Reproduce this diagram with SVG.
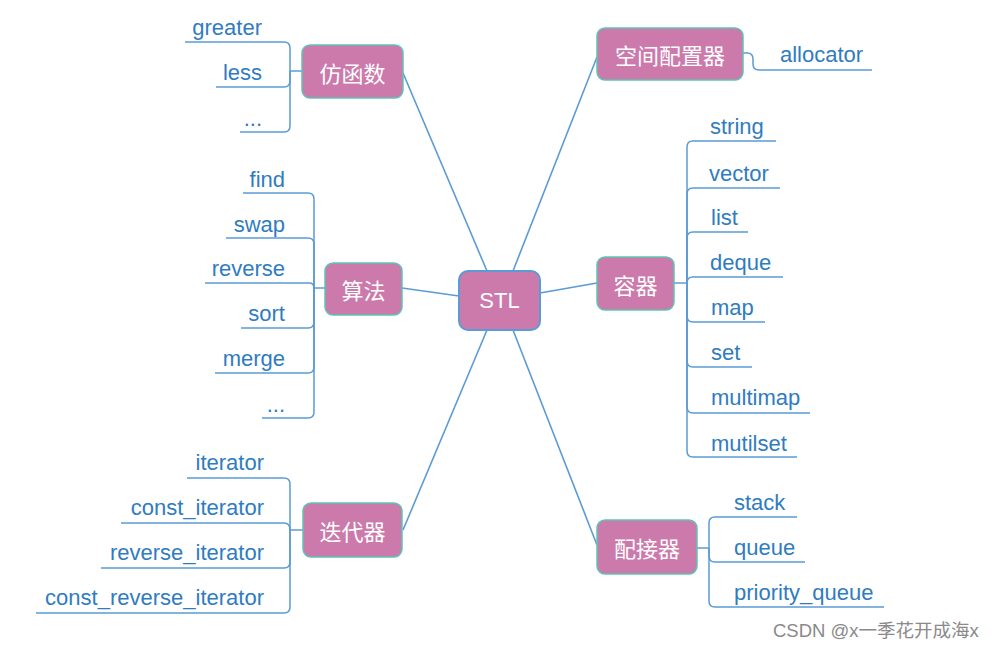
<svg xmlns="http://www.w3.org/2000/svg" width="996" height="649" viewBox="0 0 996 649">
<style>
.node{fill:#cc7aab;stroke:#5fc3b3;stroke-width:1.5}
.root{fill:#cc7aab;stroke:#5b9bd5;stroke-width:2}
.nt{font-family:"Noto Sans CJK SC","Noto Sans",sans-serif;font-size:22px;fill:#ffffff;text-anchor:middle;dominant-baseline:central}
.lt{font-family:"Liberation Sans","Noto Sans",sans-serif;font-size:22px;fill:#2f7cc0}
.le{text-anchor:end}
.ln{fill:none;stroke:#5b9bd5;stroke-width:1.5}
.mc{fill:none;stroke:#5b9bd5;stroke-width:1.6}
</style>
<rect width="996" height="649" fill="#ffffff"/>
<g id="connectors">
<path class="mc" d="M487,271 L403,73"/>
<path class="mc" d="M513,271 L597,57"/>
<path class="mc" d="M459,296 L402,288"/>
<path class="mc" d="M540,293 L597,283"/>
<path class="mc" d="M487,330 L403,530"/>
<path class="mc" d="M513,330 L597,545"/>
<path class="ln" d="M302,71 H290"/>
<path class="ln" d="M290,71 V48 Q290,42 284,42 H185"/>
<path class="ln" d="M290,71 V81 Q290,87 284,87 H216"/>
<path class="ln" d="M290,71 V126 Q290,132 284,132 H240"/>
<path class="ln" d="M325,288 H314"/>
<path class="ln" d="M314,288 V199 Q314,193 308,193 H243"/>
<path class="ln" d="M314,288 V244 Q314,238 308,238 H226"/>
<path class="ln" d="M314,288 Q314,283 309,283 H205"/>
<path class="ln" d="M314,288 V322 Q314,328 308,328 H241"/>
<path class="ln" d="M314,288 V367 Q314,373 308,373 H215"/>
<path class="ln" d="M314,288 V412 Q314,418 308,418 H262"/>
<path class="ln" d="M303,530 H290"/>
<path class="ln" d="M290,530 V484 Q290,478 284,478 H187"/>
<path class="ln" d="M290,530 Q290,523 284,523 H121"/>
<path class="ln" d="M290,530 V562 Q290,568 284,568 H101"/>
<path class="ln" d="M290,530 V607 Q290,613 284,613 H36"/>
<path class="ln" d="M743,53 H747 Q753,53 753,59 V64 Q753,70 759,70 H872"/>
<path class="ln" d="M674,283 H687"/>
<path class="ln" d="M687,283 V147 Q687,141 693,141 H776"/>
<path class="ln" d="M687,283 V194 Q687,188 693,188 H780"/>
<path class="ln" d="M687,283 V238 Q687,232 693,232 H748"/>
<path class="ln" d="M687,283 Q687,277 693,277 H783"/>
<path class="ln" d="M687,283 V316 Q687,322 693,322 H765"/>
<path class="ln" d="M687,283 V361 Q687,367 693,367 H752"/>
<path class="ln" d="M687,283 V407 Q687,413 693,413 H810"/>
<path class="ln" d="M687,283 V451 Q687,457 693,457 H797"/>
<path class="ln" d="M697,548 H709"/>
<path class="ln" d="M709,548 V523 Q709,517 715,517 H797"/>
<path class="ln" d="M709,548 V556 Q709,562 715,562 H805"/>
<path class="ln" d="M709,548 V601 Q709,607 715,607 H884"/>
</g>
<g id="stl"><rect class="root" x="459" y="271" width="81" height="59" rx="9"/><text class="nt" x="499.5" y="300" style="font-family:'Liberation Sans',sans-serif">STL</text></g>
<g id="fanghanshu"><rect class="node" x="302" y="45" width="101" height="53" rx="8"/><text class="nt" x="352.5" y="71.5">仿函数</text></g>
<g id="kongjianpeizhiqi"><rect class="node" x="597" y="28" width="146" height="52" rx="8"/><text class="nt" x="670" y="54">空间配置器</text></g>
<g id="suanfa"><rect class="node" x="325" y="263" width="77" height="52" rx="8"/><text class="nt" x="363.5" y="289">算法</text></g>
<g id="rongqi"><rect class="node" x="597" y="257" width="77" height="53" rx="8"/><text class="nt" x="635.5" y="283.5">容器</text></g>
<g id="diedaiqi"><rect class="node" x="303" y="503" width="99" height="54" rx="8"/><text class="nt" x="352.5" y="530">迭代器</text></g>
<g id="peijieqi"><rect class="node" x="597" y="520" width="100" height="54" rx="8"/><text class="nt" x="647" y="547">配接器</text></g>
<g id="leaves-fanghanshu">
<text class="lt le" x="262" y="35">greater</text>
<text class="lt le" x="262" y="80">less</text>
<text class="lt le" x="262" y="126">...</text>
</g>
<g id="leaves-suanfa">
<text class="lt le" x="285" y="187">find</text>
<text class="lt le" x="285" y="232">swap</text>
<text class="lt le" x="285" y="276">reverse</text>
<text class="lt le" x="285" y="321">sort</text>
<text class="lt le" x="285" y="366">merge</text>
<text class="lt le" x="285" y="412">...</text>
</g>
<g id="leaves-diedaiqi">
<text class="lt le" x="264" y="470">iterator</text>
<text class="lt le" x="264" y="515">const_iterator</text>
<text class="lt le" x="264" y="560">reverse_iterator</text>
<text class="lt le" x="264" y="605">const_reverse_iterator</text>
</g>
<g id="leaves-kongjian">
<text class="lt" x="780" y="62">allocator</text>
</g>
<g id="leaves-rongqi">
<text class="lt" x="710" y="134">string</text>
<text class="lt" x="709" y="181">vector</text>
<text class="lt" x="711" y="225">list</text>
<text class="lt" x="710" y="270">deque</text>
<text class="lt" x="711" y="315">map</text>
<text class="lt" x="711" y="360">set</text>
<text class="lt" x="711" y="405">multimap</text>
<text class="lt" x="711" y="451">mutilset</text>
</g>
<g id="leaves-peijieqi">
<text class="lt" x="734" y="510">stack</text>
<text class="lt" x="734" y="555">queue</text>
<text class="lt" x="734" y="600">priority_queue</text>
</g>
<text x="773" y="637" font-family="'Liberation Sans','Noto Sans CJK SC',sans-serif" font-size="18.5" fill="#8a8a8a">CSDN @x一季花开成海x</text>
</svg>
